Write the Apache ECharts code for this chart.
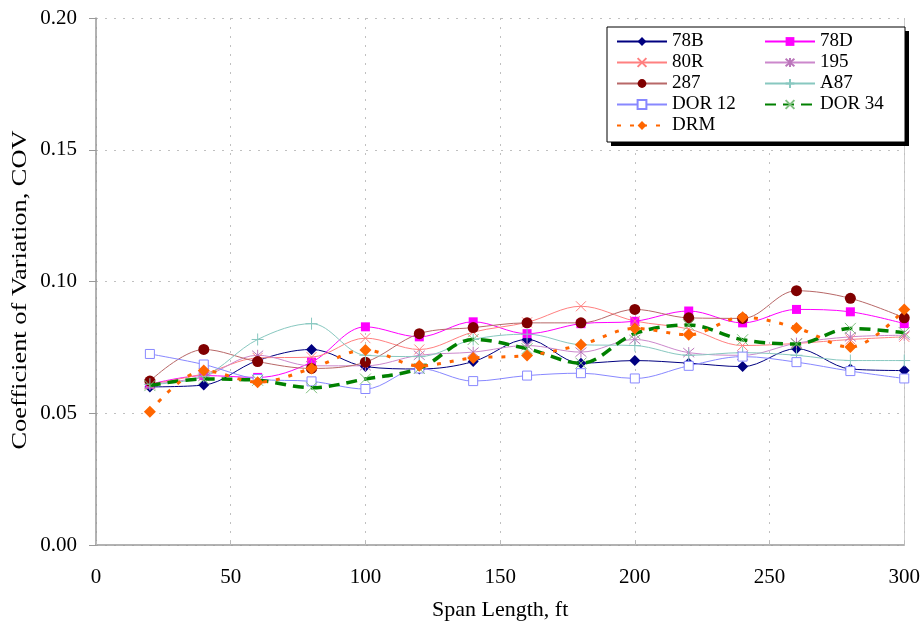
<!DOCTYPE html>
<html>
<head>
<meta charset="utf-8">
<script src="https://cdn.jsdelivr.net/npm/echarts@6/dist/echarts.min.js"></script>
<style>
html,body{margin:0;padding:0;background:#fff;}
#chart{width:923px;height:630px;}
</style>
</head>
<body>
<div id="chart"></div>
<script>
var spans = [20,40,60,80,100,120,140,160,180,200,220,240,260,280,300];
var s78B  = [0.060,0.0607,0.070,0.0742,0.0677,0.0668,0.0696,0.078,0.069,0.070,0.069,0.0677,0.0745,0.0668,0.0662];
var s78D  = [0.061,0.0643,0.0636,0.0694,0.0828,0.079,0.0847,0.0802,0.084,0.0849,0.0888,0.0843,0.0894,0.0885,0.084];
var s80R  = [0.061,0.065,0.071,0.0713,0.0785,0.0742,0.0808,0.0845,0.0906,0.085,0.082,0.0757,0.0765,0.078,0.079];
var s195  = [0.061,0.064,0.072,0.068,0.068,0.072,0.0732,0.0757,0.0732,0.078,0.073,0.072,0.0766,0.079,0.0796];
var s287  = [0.0622,0.0742,0.0696,0.067,0.0694,0.0802,0.0825,0.0843,0.0843,0.0894,0.0862,0.086,0.0965,0.0936,0.0862];
var sA87  = [0.061,0.064,0.078,0.084,0.072,0.0715,0.078,0.080,0.076,0.0757,0.072,0.073,0.072,0.070,0.070];
var sDOR12= [0.0725,0.0685,0.063,0.0621,0.0592,0.067,0.0622,0.0643,0.0652,0.0632,0.068,0.0715,0.0694,0.066,0.0632];
var sDOR34= [0.0605,0.063,0.0625,0.0597,0.063,0.067,0.078,0.0745,0.069,0.0802,0.0835,0.0779,0.0763,0.0822,0.0806];
var sDRM  = [0.0506,0.0662,0.0618,0.067,0.074,0.068,0.071,0.0719,0.076,0.0822,0.0798,0.0864,0.0824,0.0751,0.0894];
var yTicks = [0,0.05,0.10,0.15,0.20];
var xTicks = [0,50,100,150,200,250,300];
var yTitle = 'Coefficient of Variation, COV';
var xTitle = 'Span Length, ft';

function pairs(v){ return spans.map(function(x,i){ return [x, v[i]]; }); }

var X_PATH = 'path://M0,0L10,10M10,0L0,10';
var STAR_PATH = 'path://M0,0L10,10M10,0L0,10M5,-1L5,11';
var PLUS_PATH = 'path://M5,0L5,10M0,5L10,5';

function mk(name, data, o){
  return {
    name: name, type: 'line', data: pairs(data), smooth: 0.35,
    symbol: o.symbol, symbolSize: o.size,
    lineStyle: {color: o.line, width: o.width || 1, type: o.dash || 'solid'},
    itemStyle: {color: o.fill, borderColor: o.border || o.fill, borderWidth: o.bw || 0},
    emphasis: {disabled: true}, z: o.z || 2
  };
}

var series = [
  mk('78B', s78B, {symbol:'diamond', size:11, line:'#000080', fill:'#000080'}),
  mk('78D', s78D, {symbol:'rect', size:9, line:'#FF00FF', fill:'#FF00FF'}),
  mk('80R', s80R, {symbol:X_PATH, size:10, line:'#FF8080', fill:'#FF8080', border:'#FF8080', bw:1}),
  mk('195', s195, {symbol:STAR_PATH, size:11, line:'#CC88CC', fill:'#CC88CC', border:'#BB77BB', bw:1}),
  mk('287', s287, {symbol:'circle', size:11, line:'#B86868', fill:'#800000'}),
  mk('A87', sA87, {symbol:PLUS_PATH, size:12, line:'#88C8C0', fill:'#88C8C0', border:'#88C8C0', bw:1}),
  mk('DOR 12', sDOR12, {symbol:'rect', size:9, line:'#8888FF', fill:'#ffffff', border:'#8888FF', bw:1}),
  mk('DOR 34', sDOR34, {symbol:X_PATH, size:11, line:'#008000', fill:'#80C080', border:'#80C080', bw:1, width:3.5, dash:[11,7], z:3}),
  mk('DRM', sDRM, {symbol:'diamond', size:12, line:'#FF6600', fill:'#FF6600', width:3, dash:[4,9], z:3})
];

var font = '"Liberation Serif", "DejaVu Serif", serif';
var legendCommon = {
  orient: 'vertical', itemWidth: 50, itemHeight: 11, itemGap: 2,
  textStyle: {fontFamily: font, fontSize: 19, color: '#000'},
  selectedMode: false
};

var chart = echarts.init(document.getElementById('chart'), null, {renderer: 'canvas'});
chart.setOption({
  animation: false,
  backgroundColor: '#ffffff',
  textStyle: {fontFamily: font},
  grid: {left: 96, right: 18, top: 18, bottom: 85, show: false},
  xAxis: {
    type: 'value', min: 0, max: 300, interval: 50,
    name: xTitle, nameLocation: 'middle', nameGap: 54,
    nameTextStyle: {fontFamily: font, fontSize: 22, color: '#000'},
    axisLine: {show: true, lineStyle: {color: '#999999', width: 1.5}},
    axisTick: {show: true, inside: true, length: 4, lineStyle: {color: '#bbbbbb'}},
    axisLabel: {fontFamily: font, fontSize: 21, color: '#000', margin: 22,
      formatter: function(v){ return xTicks.indexOf(v) >= 0 ? String(v) : ''; }},
    splitLine: {show: true, lineStyle: {color: '#c0c0c0', type: [2,7], width: 1}}
  },
  yAxis: {
    type: 'value', min: 0, max: 0.2, interval: 0.05,
    axisLine: {show: true, lineStyle: {color: '#999999', width: 1.5}},
    axisTick: {show: true, inside: false, length: 7, lineStyle: {color: '#999999'}},
    axisLabel: {fontFamily: font, fontSize: 21, color: '#000', margin: 19,
      formatter: function(v){ return yTicks.some(function(t){return Math.abs(t-v)<1e-9;}) ? v.toFixed(2) : ''; }},
    splitLine: {show: true, lineStyle: {color: '#c0c0c0', type: [2,7], width: 1}}
  },
  graphic: [
    {type: 'text', z: 5, x: 20, y: 290, rotation: Math.PI/2, scaleX: 1.2,
      style: {text: yTitle, font: '22px ' + font, fill: '#000', align: 'center', verticalAlign: 'middle'}},
    {type: 'rect', z: 10, shape: {x: 611, y: 31, width: 298, height: 115}, style: {fill: '#000'}},
    {type: 'rect', z: 11, shape: {x: 607, y: 27, width: 298, height: 115}, style: {fill: '#fff', stroke: '#000', lineWidth: 1}},
    {type: 'rect', z: 0, silent: true, shape: {x: 904, y: 18, width: 1, height: 527}, style: {fill: '#cccccc'}}
  ],
  legend: [
    Object.assign({}, legendCommon, {left: 611, top: 27, z: 20, data: ['78B','80R','287','DOR 12','DRM']}),
    Object.assign({}, legendCommon, {left: 759, top: 27, z: 20, data: ['78D','195','A87','DOR 34']})
  ],
  series: series
});
</script>
</body>
</html>
